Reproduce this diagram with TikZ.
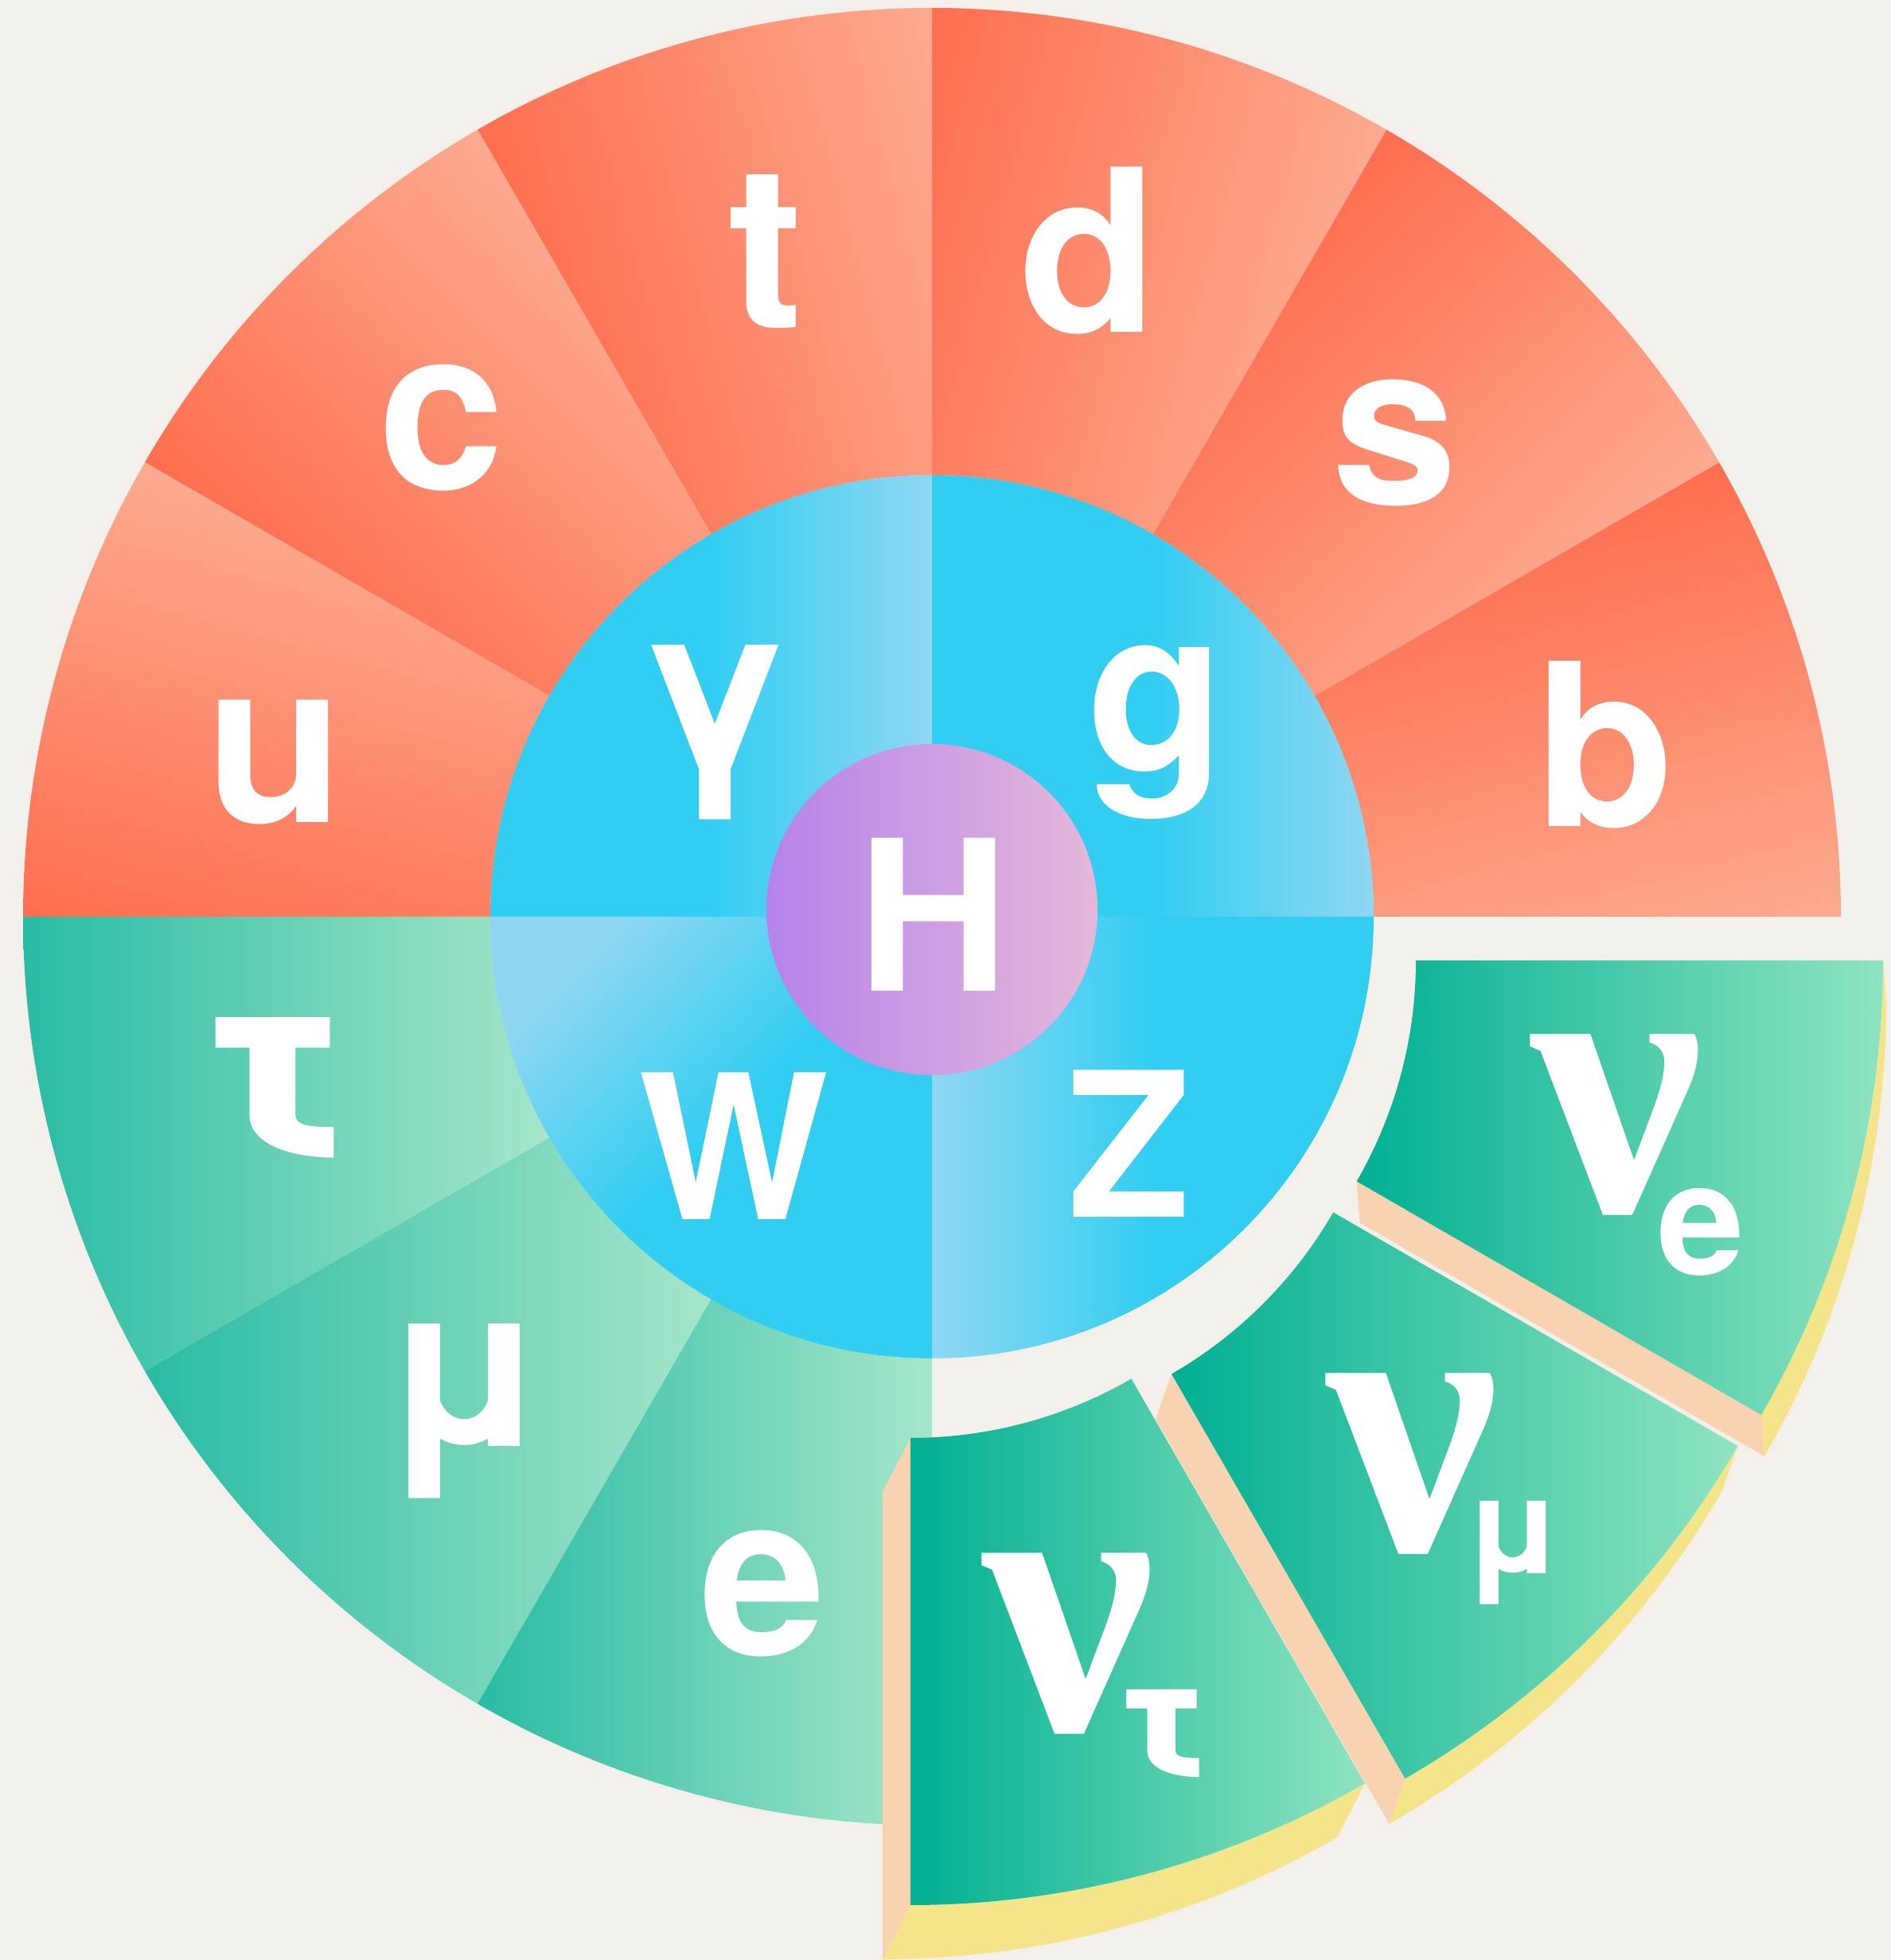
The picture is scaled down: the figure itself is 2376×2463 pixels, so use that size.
\documentclass[tikz,border=0pt]{standalone}
\usepackage{fontspec}
\usepackage{graphicx}
\setmainfont{TeX Gyre Heros}
\newfontfamily\nufont{Liberation Serif}
\usetikzlibrary{calc}
\definecolor{bg}{RGB}{243,240,235}
\definecolor{rdark}{RGB}{255,108,76}
\definecolor{rlight}{RGB}{252,172,146}
\definecolor{gdark}{RGB}{40,188,163}
\definecolor{glight}{RGB}{166,230,202}
\definecolor{ndark}{RGB}{0,176,146}
\definecolor{nlight}{RGB}{143,228,192}
\definecolor{bcyan}{RGB}{50,206,242}
\definecolor{blight}{RGB}{143,215,241}
\definecolor{hleft}{RGB}{181,131,235}
\definecolor{hright}{RGB}{229,184,217}
\definecolor{peach}{RGB}{249,210,176}
\definecolor{sideyellow}{RGB}{245,229,138}
\pgfdeclareverticalshading{redramp}{100bp}{color(0bp)=(rlight); color(38bp)=(rlight); color(62bp)=(rdark); color(100bp)=(rdark)}
\newcommand\fLow{\bfseries\fontsize{81}{81}\selectfont}
\newcommand\fTau{\bfseries\fontsize{96}{96}\selectfont}
\newcommand\fCap{\bfseries\fontsize{72}{72}\selectfont}
\newcommand\fH{\bfseries\fontsize{75}{75}\selectfont}
\newcommand\fNu{\nufont\bfseries\fontsize{138}{138}\selectfont}
\newcommand\fSubE{\bfseries\fontsize{56}{56}\selectfont}
\newcommand\fSubM{\bfseries\fontsize{48}{48}\selectfont}
\newcommand\fSubT{\bfseries\fontsize{60}{60}\selectfont}
\begin{document}
\begin{tikzpicture}[x=0.01cm,y=0.01cm,
  annsec/.style n args={5}{insert path={($(#1)+(#2:#5)$) arc[start angle=#2,end angle=#3,radius=#5] -- ($(#1)+(#3:#4)$) arc[start angle=#3,end angle=#2,radius=#4] -- cycle}},
  lbl/.style={text=white, inner sep=0pt, anchor=center},
  greensec/.style={left color=gdark, right color=glight},
  nusec/.style={left color=ndark, right color=nlight}]
\useasboundingbox (0,0) rectangle (2376,2463);
\fill[bg] (0,0) rectangle (2376,2463);
\coordinate (C) at (1171,1311);
\coordinate (HC) at (1171,1320);
\coordinate (Nt) at (1144,1211);
\coordinate (Nm) at (1194.5,1217);
\coordinate (Ne) at (1224,1256);
% quark sectors
\foreach \a in {0,30,60,90,120,150}{
  \pgfmathtruncatemacro\b{\a+30}
  \pgfmathtruncatemacro\m{\a+15}
  \begin{scope}
    \clip[annsec={C}{\a}{\b}{555}{1142}];
    \shade[shading=redramp, shading angle=\m] ($(C)+(\m:850)+(-650,-650)$) rectangle ++(1300,1300);
  \end{scope}
}
% charged lepton sectors
\foreach \a in {180,210,240}{
  \pgfmathtruncatemacro\b{\a+30}
  \shade[greensec, annsec={C}{\a}{\b}{555}{1142}];
}
% boson quadrants
\shade[left color=bcyan, right color=blight, middle color=bcyan] (C) -- ++(90:555) arc[start angle=90,end angle=180,radius=555] -- cycle;
\shade[left color=bcyan, right color=blight, middle color=bcyan] (C) -- ++(0:555) arc[start angle=0,end angle=90,radius=555] -- cycle;
\shade[left color=blight, right color=bcyan, middle color=bcyan] (C) -- ++(270:555) arc[start angle=270,end angle=360,radius=555] -- cycle;
\shade[top color=blight, bottom color=bcyan, middle color=bcyan, shading angle=45] (C) -- ++(180:555) arc[start angle=180,end angle=270,radius=555] -- cycle;
% Higgs
\shade[left color=hleft, right color=hright] (HC) circle[radius=208];
% nu tau piece
\fill[sideyellow] ($(Nt)+(270:1142)$) arc[start angle=270,end angle=300,radius=1142] -- ++(-35,-68) arc[start angle=300,end angle=270,radius=1142] -- cycle;
\fill[peach] ($(Nt)+(270:555)$) -- ($(Nt)+(270:1142)$) -- ++(-35,-68) -- ($(Nt)+(270:555)+(-35,-68)$) -- cycle;
\shade[nusec, annsec={Nt}{270}{300}{555}{1142}];
% nu mu piece
\fill[sideyellow] ($(Nm)+(300:1142)$) arc[start angle=300,end angle=330,radius=1142] -- ++(-20,-57) arc[start angle=330,end angle=300,radius=1142] -- cycle;
\fill[peach] ($(Nm)+(300:555)$) -- ($(Nm)+(300:1142)$) -- ++(-20,-57) -- ($(Nm)+(300:555)+(-20,-57)$) -- cycle;
\shade[nusec, annsec={Nm}{300}{330}{555}{1142}];
% nu e piece
\fill[sideyellow] ($(Ne)+(330:1142)$) arc[start angle=330,end angle=360,radius=1142] -- ++(4,-52) arc[start angle=360,end angle=330,radius=1142] -- cycle;
\fill[peach] ($(Ne)+(330:555)$) -- ($(Ne)+(330:1142)$) -- ++(4,-52) -- ($(Ne)+(330:555)+(4,-52)$) -- cycle;
\shade[nusec, annsec={Ne}{330}{360}{555}{1142}];
% labels
\node[lbl, font=\fLow] (u) at (346,1505) {u};
\node[lbl, font=\fLow] (c) at (555,1925) {c};
\node[lbl, font=\fLow] (t) at (962,2147) {t};
\node[lbl, font=\fLow] (d) at (1368,2148) {d};
\node[lbl, font=\fLow] (s) at (1753,1906) {s};
\node[lbl, font=\fLow] (b) at (2016,1527) {b};
\node[lbl, font=\fLow] (gam) at (899,1543) {γ};
\node[lbl, font=\fLow] (g) at (1453,1543) {g};
\node[lbl, font=\fH] (H) at (1173,1314) {H};
\node[lbl, font=\fCap] (W) at (922,1023) {W};
\node[lbl, font=\fCap] (Z) at (1419,1026) {Z};
\node[lbl, font=\fTau] (tau) at (346,1095) {\scalebox{1.22}[1]{τ}};
\node[lbl, font=\fLow] (mu) at (584,690) {μ};
\node[lbl, font=\fLow] (e) at (959,460) {e};
\node[lbl, font=\fNu] (nue) at (2032,1049) {ν};
\node[lbl, font=\fSubE] (nuesub) at (2137,915) {e};
\node[lbl, font=\fNu] (num) at (1775,623) {ν};
\node[lbl, font=\fSubM] (numsub) at (1901,512) {μ};
\node[lbl, font=\fNu] (nut) at (1343,397) {ν};
\node[lbl, font=\fSubT] (nutsub) at (1461,284) {\scalebox{1.2}[1]{τ}};
\end{tikzpicture}
\end{document}
